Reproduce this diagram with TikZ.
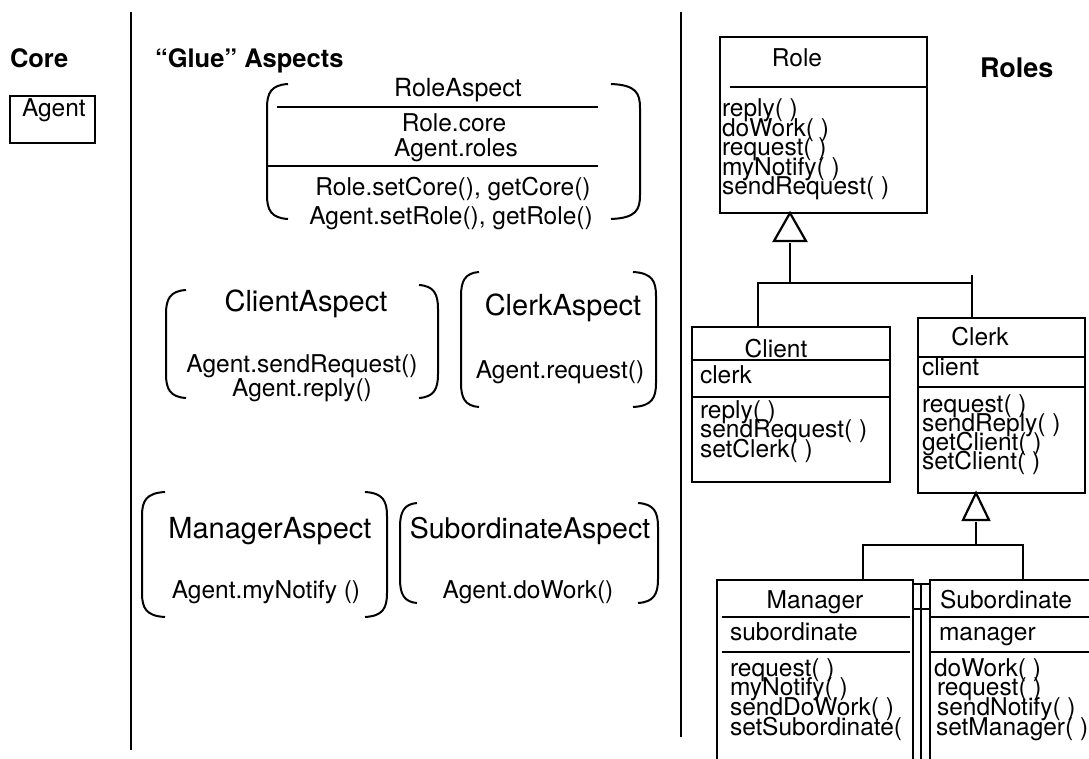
\documentclass[tikz,border=0pt]{standalone}
\usepackage{fontspec}
\setmainfont{TeX Gyre Heros}
% round brackets around an aspect: #1 end x of the hooks, #2 x of the straight part, #3 top y, #4 bottom y
\newcommand\drawLB[4]{\draw[brk] (#1,#3) .. controls ({#2+4},{#3+1}) and (#2,{#3+9}) .. (#2,{#3+24}) -- (#2,{#4-24}) .. controls (#2,{#4-9}) and ({#2+4},{#4-1}) .. (#1,#4);}
\newcommand\drawRB[4]{\draw[brk] (#1,#3) .. controls ({#2-4},{#3+1}) and (#2,{#3+9}) .. (#2,{#3+24}) -- (#2,{#4-24}) .. controls (#2,{#4-9}) and ({#2-4},{#4-1}) .. (#1,#4);}
\begin{document}
\begin{tikzpicture}[x=1pt,y=-1pt,
  every node/.style={inner sep=0pt,outer sep=0pt},
  hdr/.style={font=\fontsize{25.5}{30}\selectfont\bfseries,anchor=base west},
  body/.style={font=\fontsize{24.5}{29}\selectfont},
  mth/.style={body,anchor=base west},
  ctr/.style={body,anchor=base},
  asp/.style={font=\fontsize{29}{34}\selectfont,anchor=base},
  clsbox/.style={draw,line width=2.6pt,anchor=north west},
  divider/.style={line width=2.2pt},
  sep/.style={line width=1.6pt},
  brk/.style={line width=2pt},
  conn/.style={line width=2.2pt},
  gen/.style={line width=2.2pt,fill=white}]
\useasboundingbox[fill=white] (0,0) rectangle (1089,759);
\clip (0,0) rectangle (1089,759);

% column dividers
\coordinate (d1t) at (131,12); \coordinate (d1b) at (131,750);
\coordinate (d2t) at (681,12); \coordinate (d2b) at (681,737);
\draw[divider] (d1t) -- (d1b);
\draw[divider] (d2t) -- (d2b);

% headings
\node[hdr] (hcore) at (10,68) {Core};
\node[hdr] (hglue) at (155,68) {“Glue” Aspects};
\node[hdr,font=\fontsize{27}{32}\selectfont\bfseries] (hroles) at (980,78) {Roles};

% core class
\node[draw,line width=1.3pt,anchor=north west,minimum width=85pt,minimum height=47pt] (agent) at (10,96) {};
\node[mth] (agentname) at (22,117) {Agent};

% RoleAspect
\drawLB{288}{267}{84}{219}
\drawRB{611}{640}{84}{219}
\node[font=\fontsize{25}{30}\selectfont,anchor=base] (ra) at (458,97) {RoleAspect};
\draw[sep] (277,107) -- (598,107);
\node[ctr] (ra1) at (454,132) {Role.core};
\node[ctr] (ra2) at (456,157) {Agent.roles};
\draw[sep] (268,166) -- (598,166);
\node[ctr] (ra3) at (453,196) {Role.setCore(), getCore()};
\node[ctr] (ra4) at (451,225) {Agent.setRole(), getRole()};

% ClientAspect
\drawLB{186}{166}{290}{398}
\drawRB{419}{438}{285}{398}
\node[asp] (cla) at (306,311) {ClientAspect};
\node[ctr] (cla1) at (302,372) {Agent.sendRequest()};
\node[ctr] (cla2) at (302,396) {Agent.reply()};

% ClerkAspect
\drawLB{479}{461}{272}{407}
\drawRB{633}{656}{272}{407}
\node[asp] (kla) at (563,315) {ClerkAspect};
\node[ctr] (kla1) at (560,378) {Agent.request()};

% ManagerAspect
\drawLB{165}{142}{492}{617}
\drawRB{365}{387}{492}{617}
\node[asp] (ma) at (270,538) {ManagerAspect};
\node[ctr] (ma1) at (266,598) {Agent.myNotify ()};

% SubordinateAspect
\drawLB{417}{400}{503}{603}
\drawRB{638}{658}{503}{603}
\node[font=\fontsize{28.5}{34}\selectfont,anchor=base] (sa) at (530,538) {SubordinateAspect};
\node[ctr] (sa1) at (528,598) {Agent.doWork()};

% Role
\node[clsbox,minimum width=207pt,minimum height=176pt] (role) at (720,37) {};
\node[ctr] (rolename) at (797,67) {Role};
\draw[sep] (730,87) -- (927,87);
\node[mth] (rm1) at (722,117) {reply( )};
\node[mth] (rm2) at (722,136.5) {doWork( )};
\node[mth] (rm3) at (722,156) {request( )};
\node[mth] (rm4) at (722,175.5) {myNotify( )};
\node[mth] (rm5) at (722,195) {sendRequest( )};

% Client
\node[clsbox,minimum width=198pt,minimum height=155pt] (client) at (692,327) {};
\node[ctr] (clientname) at (776,357) {Client};
\draw[sep] (692,360) -- (890,360);
\node[mth] (cf1) at (700,383) {clerk};
\draw[sep] (692,397) -- (890,397);
\node[mth] (cm1) at (700,418) {reply( )};
\node[mth] (cm2) at (700,437.5) {sendRequest( )};
\node[mth] (cm3) at (700,457) {setClerk( )};

% Clerk
\node[clsbox,minimum width=167pt,minimum height=175pt] (clerk) at (918,318) {};
\node[ctr] (clerkname) at (980,345) {Clerk};
\draw[sep] (918,357) -- (1085,357);
\node[mth] (kf1) at (922,375) {client};
\draw[sep] (918,387) -- (1085,387);
\node[mth] (km1) at (922,412) {request( )};
\node[mth] (km2) at (922,431) {sendReply( )};
\node[mth] (km3) at (922,450) {getClient( )};
\node[mth] (km4) at (922,469) {setClient( )};

% Manager
\node[clsbox,minimum width=196pt,minimum height=200pt] (manager) at (717,580) {};
\node[ctr] (managername) at (815,608) {Manager};
\draw[sep] (722,617) -- (910,617);
\node[mth] (mf1) at (730,640) {subordinate};
\draw[sep] (722,652) -- (910,652);
\node[mth] (mm1) at (730,676) {request( )};
\node[mth] (mm2) at (730,695.5) {myNotify( )};
\node[mth] (mm3) at (730,715) {sendDoWork( )};
\node[mth] (mm4) at (730,735) {setSubordinate(};

% Subordinate
\node[clsbox,minimum width=180pt,minimum height=200pt] (subord) at (930,580) {};
\node[ctr] (subordname) at (1006,608) {Subordinate};
\draw[sep] (930,617) -- (1089,617);
\node[mth] (sf1) at (939,640) {manager};
\draw[sep] (930,652) -- (1089,652);
\node[mth] (sm1) at (934,676) {doWork( )};
\node[mth] (sm2) at (937,695.5) {request( )};
\node[mth] (sm3) at (937,715) {sendNotify( )};
\node[mth] (sm4) at (936,735) {setManager( )};

% link between Manager and Subordinate
\draw[conn] ([yshift=-4pt]manager.north east) -- ([yshift=-4pt]subord.north west);
\draw[conn] ([yshift=-29pt]manager.north east) -- ([yshift=-29pt]subord.north west);
\draw[conn] (921,584) -- (921,759);

% generalisation Client, Clerk -> Role
\coordinate (j1) at (790,283);
\coordinate (c1) at (758,283);
\coordinate (c2) at (972,283);
\draw[conn] (c1 |- client.north) -- (c1) -- (c2) -- (c2 |- clerk.north);
\draw[conn] (c2) -- ++(0,-8);
\draw[conn] (j1) -- ++(0,-40);
\draw[gen] (j1 |- role.south) -- ++(-16,28) -- ++(32,0) -- cycle;

% generalisation Manager, Subordinate -> Clerk
\coordinate (j2) at (976,545);
\coordinate (c3) at (863,545);
\coordinate (c4) at (1023,545);
\draw[conn] (c3 |- manager.north) -- (c3) -- (c4) -- (c4 |- subord.north);
\draw[conn] (j2) -- ++(0,-23);
\draw[gen] (j2 |- clerk.south) -- ++(-13,27) -- ++(26,0) -- cycle;
\end{tikzpicture}
\end{document}
